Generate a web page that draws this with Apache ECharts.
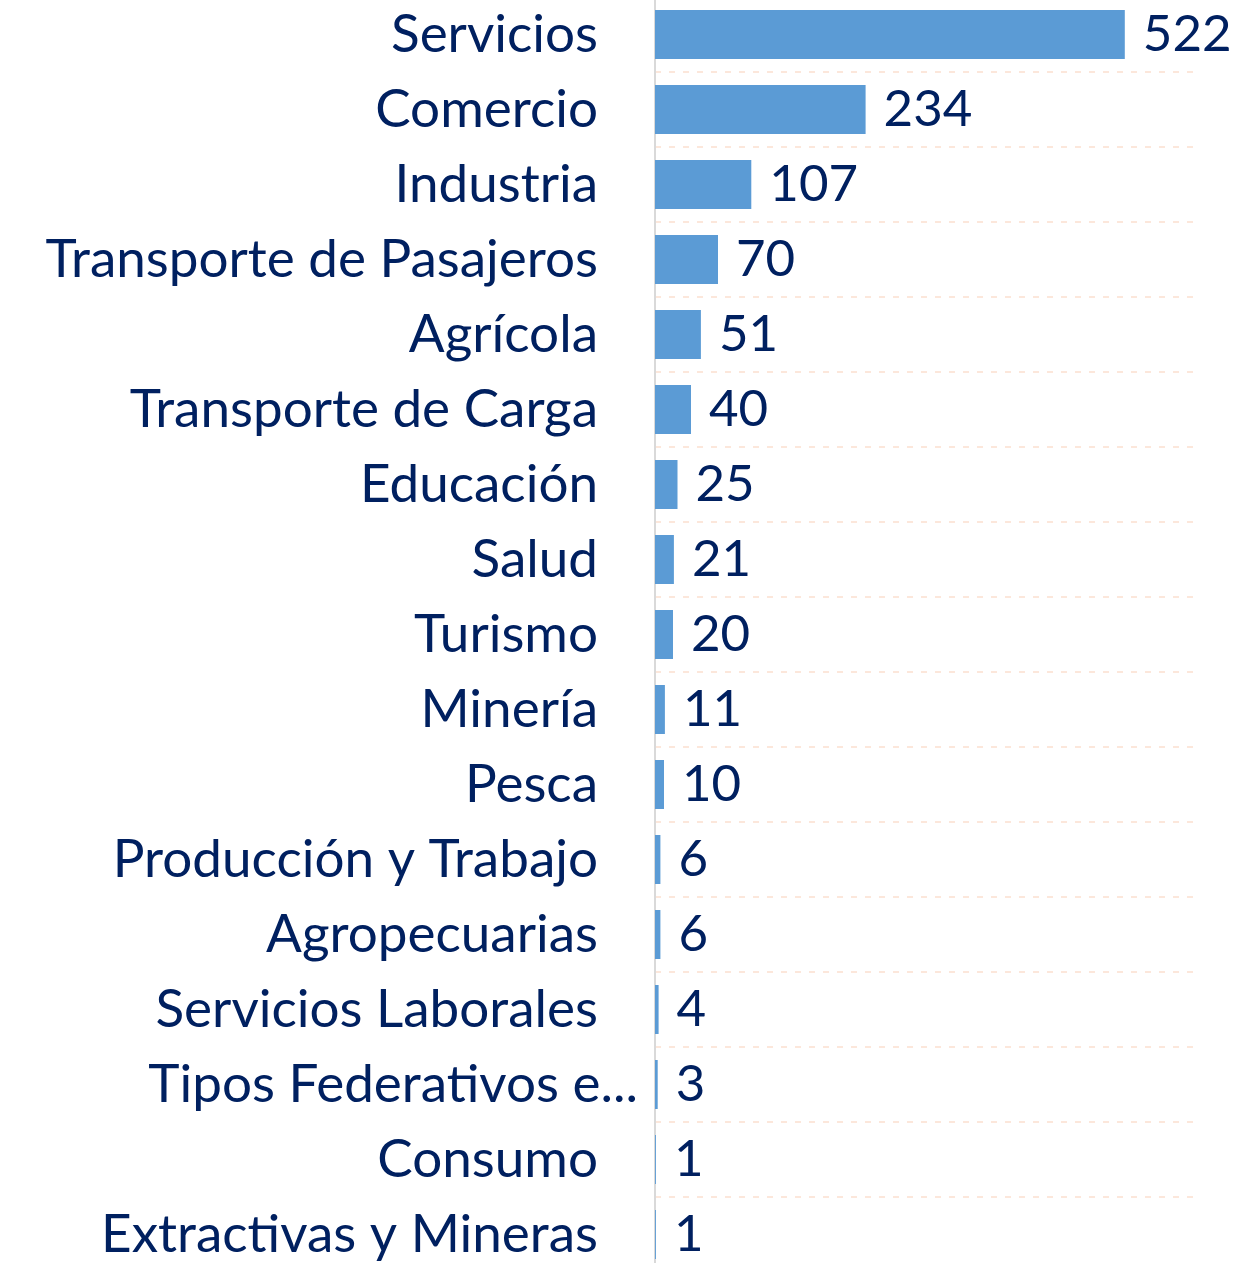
<!DOCTYPE html>
<html>
<head>
<meta charset="utf-8">
<script src="https://cdn.jsdelivr.net/npm/echarts@6/dist/echarts.min.js"></script>
<style>
  html, body { margin: 0; padding: 0; background: #fff; overflow: hidden; }
  #chart { width: 1234px; height: 1275px; margin-top: -3px; }
</style>
</head>
<body>
<div id="chart"></div>
<script>
const categories = [
  "Servicios", "Comercio", "Industria", "Transporte de Pasajeros", "Agrícola",
  "Transporte de Carga", "Educación", "Salud", "Turismo", "Minería", "Pesca",
  "Producción y Trabajo", "Agropecuarias", "Servicios Laborales",
  "Tipos Federativos e...", "Consumo", "Extractivas y Mineras",
];
const values = [522, 234, 107, 70, 51, 40, 25, 21, 20, 11, 10, 6, 6, 4, 3, 1, 1];

const navy = "#002060";
const labelFont = "Lato, 'Open Sans', sans-serif";

const chart = echarts.init(document.getElementById("chart"), null, { renderer: "canvas" });

chart.setOption({
  animation: false,
  grid: { left: 655, right: 39, top: 0, bottom: 0, containLabel: false },
  xAxis: {
    type: "value",
    min: 0,
    max: 600,
    axisLabel: { show: false },
    axisLine: { show: false },
    axisTick: { show: false },
    splitLine: { show: false },
  },
  yAxis: {
    type: "category",
    inverse: true,
    data: categories,
    axisLine: { show: true, lineStyle: { color: "#d9d9d9", width: 2 } },
    axisTick: { show: false },
    splitLine: {
      show: true,
      interval: 0,
      lineStyle: { color: "#fbe0cf", type: [6, 8], width: 1.5 },
    },
    axisLabel: {
      interval: 0,
      margin: 17,
      formatter: (v) => (v.endsWith("...") ? "{t|" + v + "}" : "{n|" + v + "}"),
      rich: {
        n: { color: navy, fontSize: 53, fontFamily: labelFont, padding: [0, 40, 0, 0] },
        t: { color: navy, fontSize: 53, fontFamily: labelFont },
      },
    },
  },
  series: [
    {
      type: "bar",
      data: values,
      barWidth: 49,
      itemStyle: { color: "#5b9bd5" },
      label: {
        show: true,
        position: "right",
        distance: 18,
        color: navy,
        fontSize: 51,
        fontFamily: labelFont,
      },
    },
  ],
});
</script>
</body>
</html>
